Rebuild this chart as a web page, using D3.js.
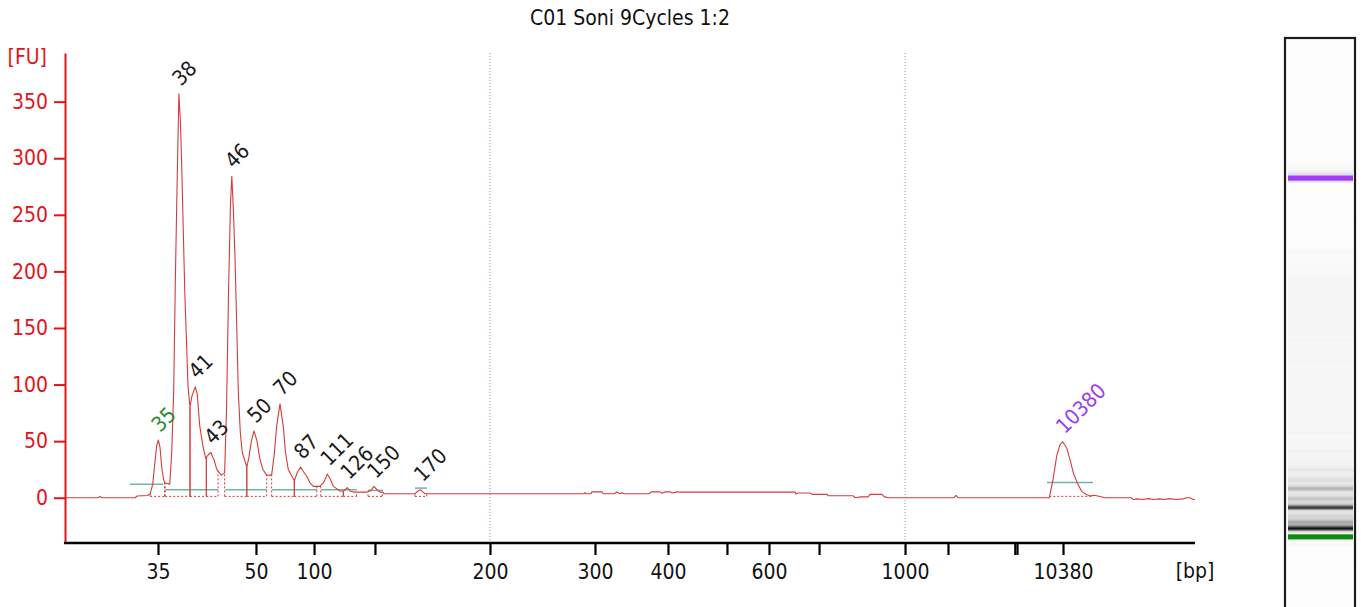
<!DOCTYPE html>
<html><head><meta charset="utf-8">
<script src="https://cdn.jsdelivr.net/npm/d3@7"></script>
<style>
html,body{margin:0;padding:0;background:#fff;}
svg{display:block;font-family:"DejaVu Sans Condensed","DejaVu Sans",sans-serif;font-stretch:condensed;}
</style></head><body>
<svg id="chart" width="1361" height="607"></svg>
<script>
// ---------- data ----------
const title = "C01 Soni 9Cycles 1:2";
const yTicks = [0, 50, 100, 150, 200, 250, 300, 350];
const ladderBp  = [35, 50, 100, 150, 200, 300, 400, 500, 600, 700, 1000, 2000, 3000, 7000, 10380];
const ladderPos = [0.0823, 0.1690, 0.2204, 0.2743, 0.3761, 0.4690, 0.5336, 0.5858, 0.6230, 0.6673, 0.7434, 0.7814, 0.8405, 0.8425, 0.8832];
const tickLabels = ["35", "50", "100", "", "200", "300", "400", "", "600", "", "1000", "", "", "", "10380"];
const gridBp = [200, 1000];

const traceBp = [20.8, 25.8, 26.1, 26.4, 31.5, 31.8, 33.4, 33.8, 34.2, 34.5, 34.8, 35.05, 35.3, 35.6, 35.9, 36.1, 36.8,
  37.1, 37.4, 37.65, 37.9, 38.2, 38.45, 38.6, 39.1, 39.6, 39.9, 40.2, 40.7, 41.0, 41.4, 41.9, 42.3, 42.7, 43.1, 43.6,
  44.0, 44.7, 45.2, 45.5, 45.8, 46.1, 46.3, 46.5, 46.8, 47.3, 47.6, 47.9, 48.6, 48.9, 49.3, 49.7, 50.9, 53.4, 56.0,
  59.2, 63.5, 65.9, 67.8, 70.7, 73.5, 75.4, 77.8, 83.0, 85.8, 88.5, 90.9, 93.7, 96.6, 99.4, 104.9, 108.2, 110.9,
  113.1, 115.9, 121.3, 124.6, 127.3, 129.5, 132.3, 143.2, 146.7, 149.2, 150.9, 152.2, 153.5, 153.9, 167.4, 168.7,
  169.9, 170.9, 171.7, 289.5, 290.5, 291.4, 296.2, 297.1, 309.6, 311, 326, 330, 334, 337, 340, 374, 377, 389, 392,
  396, 404, 407, 417, 420, 652, 654, 658, 682, 686, 728, 731, 818, 825, 836, 843, 871, 878, 920, 927, 941, 2090,
  2119, 2149, 9373, 9645, 9917, 10160, 10358, 10652, 10894, 11137, 11431, 11755, 12122, 12400, 12600, 12857, 13466,
  15370, 15524, 15818, 16185, 16700, 16994, 17500, 17800, 18200, 18700, 19200, 19490, 19710, 19930, 20080];
const traceFU = [0, 0, 1.2, 0, 0, 1.5, 2, 3.5, 12, 30, 46, 51, 45, 25, 15, 13, 12,
  40, 93, 190, 270, 357, 330, 300, 182, 98, 80, 90, 98, 92, 63, 45, 35, 38, 40, 33,
  25, 20, 22, 80, 182, 260, 284, 260, 211, 93, 58, 40, 27, 35, 50, 59, 50, 34, 25,
  20, 20, 40, 63, 83, 63, 40, 25, 15, 23, 27, 23, 19, 13, 10, 10, 14, 21,
  17, 10, 6, 6, 9, 6, 5, 5, 6.5, 10, 7, 5, 5, 3.5, 3.5, 6,
  7, 5, 3.5, 3.5, 4.5, 3.5, 3.5, 5.2, 5.2, 3.5, 3.5, 5, 3.5, 4.5, 3.5, 3.5, 5.2, 5.2, 4,
  5.2, 5.2, 4.2, 5.2, 5, 5, 3.2, 4.2, 4.2, 3, 3, 1.8, 1.8, 0.2, 0.2, 0.8, 0.8, 3, 3, 1, 0, 0,
  2, 0, 0, 16, 37, 47, 49.5, 44, 33.7, 22, 13, 5.6, 2.7, 1.5, 2.2, 1.8, 0,
  0, -1.5, -1, -1.5, -0.8, -1.5, -1, -1.5, -0.8, -1.5, -1, 0, 0, -1.5, -1.5];

const peakLabels = ["35", "38", "41", "43", "46", "50", "70", "87", "111", "126", "150", "170", "10380"];
const peakStart  = [33.8, 36.1, 39.9, 42.4, 45.2, 48.6, 63.5, 83.0, 105.5, 124.0, 144.3, 167.4, 9373];
const peakEnd    = [36.0, 39.9, 42.4, 44.2, 48.6, 59.2, 83.0, 102.3, 124.0, 135.0, 153.2, 172.5, 12578];
const peakKind   = ["lower", "", "", "", "", "", "", "", "", "", "", "", "upper"];

const regionStart = [30.7, 36.1, 45.3, 63.8, 105.7, 144.3, 167.4, 9204];
const regionEnd   = [35.8, 44.2, 59.4, 102.5, 135.2, 153.5, 172.6, 12578];
const regionLevel = [12, 7, 7, 7, 7, 6.5, 8.5, 13.5];

// ---------- layout ----------
const svg = d3.select("#chart");
const W = 1361, H = 607;
const m = {left: 65, top: 53, right: 166, bottom: 64};
const iw = W - m.left - m.right;   // 1130
const ih = H - m.top - m.bottom;   // 490
const FONT = 21;
const RED = "#e2141b", TRACE = "#d43c3c", TEAL = "#74b3a3";
const colors = {lower: "#2a8a2a", upper: "#9a3cf0", "": "#1a1a1a"};
const bandColors = {lower: "#0b8a0b", upper: "#a33cf5"};

const x = d3.scaleLinear().domain(ladderBp).range(ladderPos.map(f => f * iw));
const y = d3.scaleLinear().domain([-40, 393]).range([ih, 0]);

const g = svg.append("g").attr("transform", `translate(${m.left},${m.top})`);

// title
svg.append("text").attr("x", m.left + iw / 2).attr("y", 25).attr("text-anchor", "middle")
  .attr("font-size", FONT).attr("fill", "#111").text(title);

// dotted gridlines
g.selectAll(".grid").data(gridBp).join("line")
  .attr("x1", d => x(d)).attr("x2", d => x(d)).attr("y1", 0).attr("y2", ih)
  .attr("stroke", "#8e8ed2").attr("stroke-width", 1).attr("stroke-dasharray", "1,2");

// trace
const pts = traceBp.map((b, i) => ({bp: b, fu: traceFU[i]}));
const line = d3.line().x(d => x(d.bp)).y(d => y(d.fu));

function fuAtPx(px) {
  const p0 = x(traceBp[0]), pN = x(traceBp[traceBp.length - 1]);
  if (px < p0 || px > pN) return 0;
  const i = d3.bisector(d => x(d.bp)).right(pts, px);
  if (i <= 0) return pts[0].fu;
  if (i >= pts.length) return pts[pts.length - 1].fu;
  const a = pts[i - 1], b = pts[i];
  const ax = x(a.bp), bx = x(b.bp);
  const t = bx === ax ? 0 : (px - ax) / (bx - ax);
  return a.fu + (b.fu - a.fu) * t;
}

// teal region lines
g.selectAll(".region").data(regionStart).join("line")
  .attr("x1", (d, i) => x(d)).attr("x2", (d, i) => x(regionEnd[i]))
  .attr("y1", (d, i) => y(regionLevel[i])).attr("y2", (d, i) => y(regionLevel[i]))
  .attr("stroke", TEAL).attr("stroke-width", 1.5);

// peak baselines and boundaries
const base = 1.2;
peakLabels.forEach((lab, i) => {
  g.append("line").attr("x1", x(peakStart[i])).attr("x2", x(peakEnd[i]))
    .attr("y1", y(base)).attr("y2", y(base))
    .attr("stroke", TRACE).attr("stroke-width", 1).attr("stroke-dasharray", "2,2");
  [peakStart[i], peakEnd[i]].forEach((b, k) => {
    const shared = k === 0 ? peakEnd.some((e, j) => j !== i && Math.abs(e - b) < 0.05)
                           : peakStart.some((s, j) => j !== i && Math.abs(s - b) < 0.05);
    const px = x(b);
    g.append("line").attr("x1", px).attr("x2", px)
      .attr("y1", y(base)).attr("y2", y(Math.max(base, fuAtPx(px))))
      .attr("stroke", TRACE).attr("stroke-width", 1)
      .attr("stroke-dasharray", shared ? null : "2,2");
  });
});

g.append("path").datum(pts).attr("d", line).attr("fill", "none")
  .attr("stroke", TRACE).attr("stroke-width", 1.1).attr("stroke-linejoin", "round");

// peak labels
const peakTops = peakLabels.map((lab, i) => {
  const inside = pts.filter(d => d.bp >= peakStart[i] && d.bp <= peakEnd[i]);
  return inside.reduce((a, b) => (b.fu > a.fu ? b : a));
});
g.selectAll(".plab").data(peakLabels).join("text")
  .attr("transform", (d, i) => `translate(${x(peakTops[i].bp) + 2},${y(peakTops[i].fu) - 7}) rotate(-45)`)
  .attr("font-size", FONT).attr("fill", (d, i) => colors[peakKind[i]]).text(d => d);

// y axis
const yAxis = g.append("g").call(d3.axisLeft(y).tickValues(yTicks).tickSize(11).tickSizeOuter(0).tickPadding(6));
yAxis.attr("font-family", null);
yAxis.select(".domain").attr("stroke", RED).attr("stroke-width", 2);
yAxis.selectAll(".tick line").attr("stroke", RED).attr("stroke-width", 2);
yAxis.selectAll(".tick text").attr("fill", RED).attr("font-size", FONT);
svg.append("text").attr("x", 47).attr("y", 64).attr("text-anchor", "end")
  .attr("font-size", FONT).attr("fill", RED).text("[FU]");

// x axis
const xAxis = g.append("g").attr("transform", `translate(0,${ih})`)
  .call(d3.axisBottom(x).tickValues(ladderBp).tickFormat((d, i) => tickLabels[i]).tickSize(12).tickSizeOuter(0).tickPadding(9));
xAxis.attr("font-family", null);
xAxis.select(".domain").remove();
xAxis.selectAll(".tick line").attr("stroke", "#000").attr("stroke-width", 2.2);
xAxis.selectAll(".tick text").attr("fill", "#111").attr("font-size", FONT);
g.append("line").attr("x1", -1).attr("x2", iw).attr("y1", ih).attr("y2", ih)
  .attr("stroke", "#000").attr("stroke-width", 2.6);
svg.append("text").attr("x", m.left + iw).attr("y", 578).attr("text-anchor", "middle")
  .attr("font-size", FONT).attr("fill", "#111").text("[bp]");

// ---------- gel lane ----------
const lane = {x: 1285, y: 38, w: 70, bottom: 640, inL: 1288, inR: 1353};
const laneY = d3.scaleLinear().domain([x(ladderBp[0]), x(ladderBp[ladderBp.length - 1])]).range([537, 178]);
const lg = svg.append("g");
lg.append("rect").attr("x", lane.x).attr("y", lane.y).attr("width", lane.w).attr("height", lane.bottom - lane.y)
  .attr("fill", "#fdfdfd").attr("stroke", "none");
const rows = d3.range(lane.y + 1, H);
lg.selectAll(".row").data(rows).join("rect")
  .attr("x", lane.inL).attr("width", lane.inR - lane.inL)
  .attr("y", r => r).attr("height", 1.05)
  .attr("fill", r => {
    const xa = laneY.invert(r), xb = laneY.invert(r + 1);
    let s = 0;
    for (let k = 0; k < 6; k++) s += fuAtPx(xa + (xb - xa) * (k + 0.5) / 6);
    const v = Math.max(0, s / 6);
    const gr = Math.round(253 * (1 - Math.pow(Math.min(1, v / 380), 0.8)));
    return `rgb(${gr},${gr},${gr})`;
  });
peakLabels.forEach((lab, i) => {
  if (!peakKind[i]) return;
  const cy = laneY(x(peakTops[i].bp));
  lg.append("rect").attr("x", lane.inL).attr("width", lane.inR - lane.inL)
    .attr("y", cy - 2.5).attr("height", 5).attr("fill", bandColors[peakKind[i]]);
});
lg.append("rect").attr("x", lane.x).attr("y", lane.y).attr("width", lane.w).attr("height", lane.bottom - lane.y)
  .attr("fill", "none").attr("stroke", "#1c1c1c").attr("stroke-width", 2.2);
</script>
</body></html>
